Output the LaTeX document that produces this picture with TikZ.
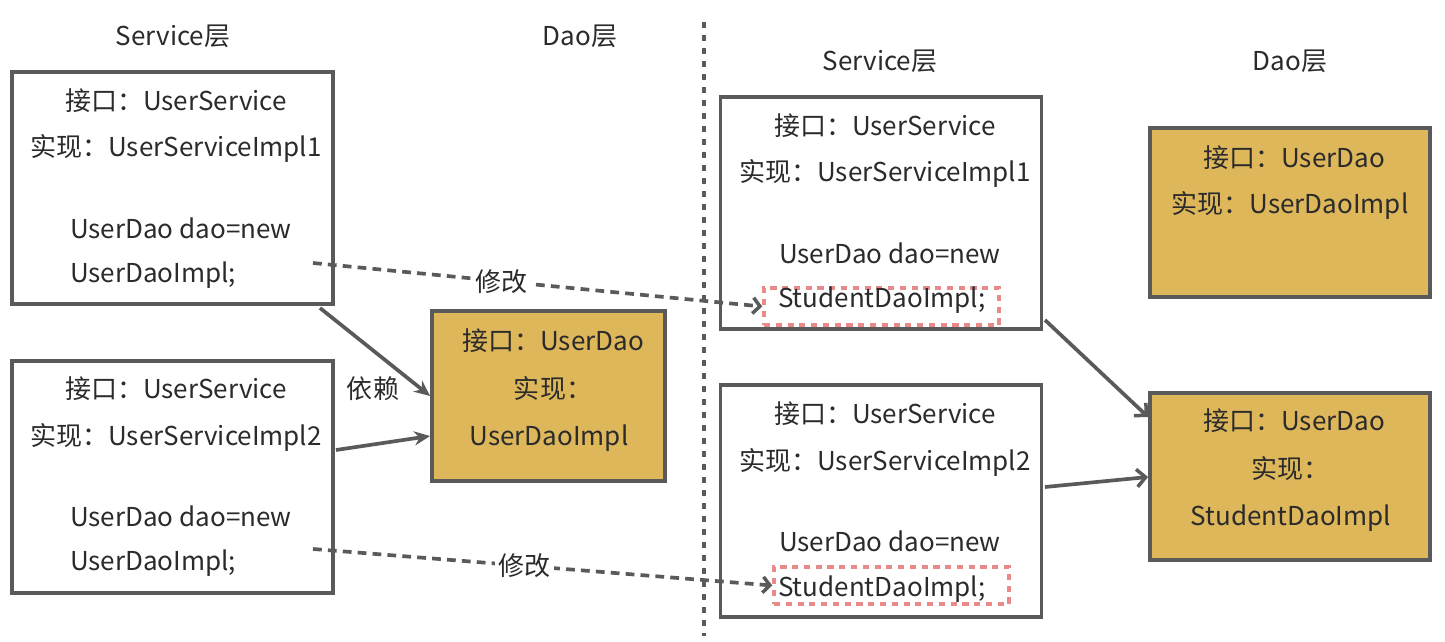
\documentclass[tikz,border=0pt]{standalone}
\usepackage{fontspec}
\setmainfont{Noto Sans CJK SC}
\usetikzlibrary{arrows.meta,positioning}
\definecolor{linegray}{HTML}{5A5A5A}
\definecolor{txtgray}{HTML}{2B2B2B}
\definecolor{daogold}{HTML}{DEB75B}
\definecolor{markred}{HTML}{E88A8A}

\begin{document}
\begin{tikzpicture}[x=0.02cm,y=-0.02cm,
  font=\fontsize{14.8}{17}\selectfont,
  txt/.style={text=txtgray,inner sep=1pt},
  svcbox/.style={draw=linegray,line width=2.2pt,fill=white,minimum width=6.42cm,minimum height=4.64cm},
  daobox/.style={draw=linegray,line width=2.2pt,fill=daogold},
  redbox/.style={draw=markred,line width=2pt,dash pattern=on 3.5pt off 3.2pt,minimum width=4.7cm,minimum height=0.74cm},
  dep/.style={draw=linegray,line width=2.1pt,-{Stealth[length=9pt,width=8pt]}},
  dep2/.style={draw=linegray,line width=2.1pt,-{Straight Barb[length=5pt,width=10pt,line width=2pt]}},
  mod/.style={draw=linegray,line width=2.1pt,dash pattern=on 5pt off 3.5pt,-{Straight Barb[length=4pt,width=9pt,line width=2pt]}},
  divider/.style={draw=linegray,line width=1.9pt,dash pattern=on 3.5pt off 3.9pt}]
\useasboundingbox (0,0) rectangle (1445,642);

% headers
\node[txt] (hsl) at (173,36) {Service层};
\node[txt] (hdl) at (580,36) {Dao层};
\node[txt] (hsr) at (880,61) {Service层};
\node[txt] (hdr) at (1290,61) {Dao层};

% divider
\draw[divider] (704,22) -- (704,636);

% left side
\node[svcbox] (s1) at (172.5,188) {};
\node[txt] (s1a) at (176,101) {接口：UserService};
\node[txt] (s1b) at (176,148) {实现：UserServiceImpl1};
\node[txt,anchor=west] (s1c) at (68,228) {UserDao dao=new};
\node[txt,anchor=west] (s1d) at (68,275) {UserDaoImpl;};

\node[svcbox] (s2) at (172.5,477) {};
\node[txt] (s2a) at (176,389) {接口：UserService};
\node[txt] (s2b) at (176,437) {实现：UserServiceImpl2};
\node[txt,anchor=west] (s2c) at (68,516) {UserDao dao=new};
\node[txt,anchor=west] (s2d) at (68,563) {UserDaoImpl;};

\node[daobox,minimum width=4.66cm,minimum height=3.4cm] (d1) at (548.5,396) {};
\node[txt] (d1a) at (553,341) {接口：UserDao};
\node[txt] (d1b) at (553,389) {实现：};
\node[txt] (d1c) at (549,438) {UserDaoImpl};

% right side
\node[svcbox] (r1) at (881,213) {};
\node[txt] (r1a) at (885,126) {接口：UserService};
\node[txt] (r1b) at (885,173) {实现：UserServiceImpl1};
\node[txt,anchor=west] (r1c) at (777,253) {UserDao dao=new};
\node[redbox] (rd1) at (881.5,306.5) {};
\node[txt,anchor=west] (r1d) at (776,300) {StudentDaoImpl;};

\node[svcbox] (r2) at (881,501) {};
\node[txt] (r2a) at (885,414) {接口：UserService};
\node[txt] (r2b) at (885,462) {实现：UserServiceImpl2};
\node[txt,anchor=west] (r2c) at (777,541) {UserDao dao=new};
\node[redbox] (rd2) at (891.5,585.5) {};
\node[txt,anchor=west] (r2d) at (776,589) {StudentDaoImpl;};

\node[daobox,minimum width=5.6cm,minimum height=3.38cm] (d2) at (1290,212.5) {};
\node[txt] (d2a) at (1294,158) {接口：UserDao};
\node[txt] (d2b) at (1290,205) {实现：UserDaoImpl};

\node[daobox,minimum width=5.6cm,minimum height=3.34cm] (d3) at (1290,476.5) {};
\node[txt] (d3a) at (1294,421) {接口：UserDao};
\node[txt] (d3b) at (1290,469) {实现：};
\node[txt] (d3c) at (1291,518) {StudentDaoImpl};

% connectors
\coordinate (m1) at (313,263);
\coordinate (m2) at (313,549);
\draw[dep] (320,308) -- (d1.west |- 0,396);
\draw[dep] (336,450) -- (d1.west |- 0,436);
\node[txt] (dep) at (373,389) {依赖};
\draw[mod] (m1) -- node[pos=0.42,txt,fill=white,inner sep=2pt] (mod1) {修改} (rd1.west);
\draw[mod] (m2) -- node[pos=0.46,txt,fill=white,inner sep=2pt] (mod2) {修改} (rd2.west);
\draw[dep2] (1045,320) -- (d3.west |- 0,417);
\draw[dep2] (1045,487) -- (d3.west |- 0,477);
\end{tikzpicture}
\end{document}
